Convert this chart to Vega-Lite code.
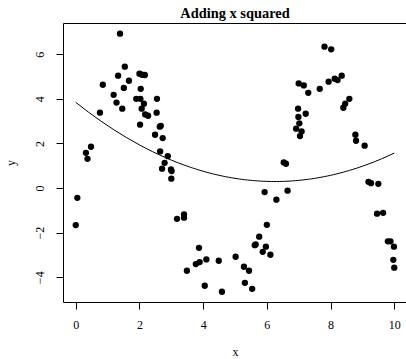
{
  "$schema": "https://vega.github.io/schema/vega-lite/v6.json",
  "autosize": {"type": "none"},
  "padding": {"left": 63, "top": 23, "right": 0, "bottom": 57},
  "width": 344,
  "height": 279,
  "background": "white",
  "title": {
    "text": "Adding x squared",
    "font": "Liberation Serif",
    "fontSize": 14.4,
    "fontWeight": "bold",
    "color": "black",
    "anchor": "middle",
    "frame": "group",
    "baseline": "alphabetic",
    "offset": 5,
    "dy": 14
  },
  "config": {
    "view": {"stroke": "black", "strokeWidth": 1},
    "axis": {
      "grid": false,
      "domain": false,
      "tickColor": "black",
      "tickSize": 7,
      "tickWidth": 1,
      "labelFont": "Liberation Serif",
      "labelFontSize": 12,
      "labelColor": "black",
      "labelFlush": false,
      "labelOverlap": false,
      "titleFont": "Liberation Serif",
      "titleFontSize": 12,
      "titleFontWeight": "normal",
      "titleColor": "black"
    }
  },
  "data": {
    "values": [
      {"x": 0.0, "y": -1.66}, {"x": 0.05, "y": -0.44}, {"x": 0.32, "y": 1.58}, {"x": 0.37, "y": 1.31},
      {"x": 0.48, "y": 1.85}, {"x": 0.76, "y": 3.38}, {"x": 0.85, "y": 4.63}, {"x": 1.19, "y": 4.18},
      {"x": 1.28, "y": 3.83}, {"x": 1.33, "y": 5.04}, {"x": 1.39, "y": 6.92}, {"x": 1.46, "y": 3.56},
      {"x": 1.51, "y": 4.49}, {"x": 1.54, "y": 5.44}, {"x": 1.67, "y": 4.81}, {"x": 1.9, "y": 4.0},
      {"x": 2.0, "y": 5.13}, {"x": 2.02, "y": 2.84}, {"x": 2.03, "y": 4.0}, {"x": 2.04, "y": 4.45},
      {"x": 2.07, "y": 3.56}, {"x": 2.08, "y": 5.08}, {"x": 2.14, "y": 3.78}, {"x": 2.17, "y": 5.07},
      {"x": 2.18, "y": 3.3}, {"x": 2.27, "y": 3.24}, {"x": 2.49, "y": 2.39}, {"x": 2.54, "y": 3.38},
      {"x": 2.55, "y": 4.0}, {"x": 2.64, "y": 2.75}, {"x": 2.65, "y": 1.64}, {"x": 2.67, "y": 2.79},
      {"x": 2.71, "y": 0.87}, {"x": 2.73, "y": 2.24}, {"x": 2.79, "y": 1.13}, {"x": 2.89, "y": 1.43},
      {"x": 2.99, "y": 0.83}, {"x": 3.0, "y": 0.42}, {"x": 3.01, "y": 0.76}, {"x": 3.18, "y": -1.38},
      {"x": 3.4, "y": -1.18}, {"x": 3.4, "y": -1.33}, {"x": 3.49, "y": -3.71}, {"x": 3.77, "y": -3.41},
      {"x": 3.87, "y": -2.68}, {"x": 3.89, "y": -3.32}, {"x": 4.05, "y": -4.38}, {"x": 4.1, "y": -3.2},
      {"x": 4.49, "y": -3.26}, {"x": 4.59, "y": -4.65}, {"x": 5.02, "y": -3.08}, {"x": 5.28, "y": -3.53},
      {"x": 5.31, "y": -4.25}, {"x": 5.44, "y": -3.71}, {"x": 5.54, "y": -4.52}, {"x": 5.62, "y": -2.56},
      {"x": 5.65, "y": -2.53}, {"x": 5.76, "y": -2.18}, {"x": 5.87, "y": -2.86}, {"x": 5.93, "y": -0.18},
      {"x": 5.97, "y": -2.63}, {"x": 6.0, "y": -1.65}, {"x": 6.11, "y": -2.99}, {"x": 6.3, "y": -0.52},
      {"x": 6.53, "y": 1.15}, {"x": 6.6, "y": 1.09}, {"x": 6.65, "y": -0.12}, {"x": 6.92, "y": 2.66},
      {"x": 6.98, "y": 3.56}, {"x": 6.99, "y": 3.19}, {"x": 7.0, "y": 4.69}, {"x": 7.02, "y": 2.9},
      {"x": 7.04, "y": 2.33}, {"x": 7.09, "y": 2.54}, {"x": 7.16, "y": 4.6}, {"x": 7.22, "y": 3.33},
      {"x": 7.3, "y": 4.27}, {"x": 7.66, "y": 4.45}, {"x": 7.81, "y": 6.34}, {"x": 7.94, "y": 4.77},
      {"x": 8.02, "y": 6.22}, {"x": 8.13, "y": 4.9}, {"x": 8.22, "y": 4.84}, {"x": 8.35, "y": 5.04},
      {"x": 8.4, "y": 3.6}, {"x": 8.46, "y": 3.78}, {"x": 8.59, "y": 4.0}, {"x": 8.78, "y": 2.39},
      {"x": 8.8, "y": 2.12}, {"x": 9.07, "y": 1.9}, {"x": 9.19, "y": 0.28}, {"x": 9.27, "y": 0.22},
      {"x": 9.46, "y": -1.15}, {"x": 9.5, "y": 0.19}, {"x": 9.65, "y": -1.11}, {"x": 9.8, "y": -2.39},
      {"x": 9.88, "y": -2.39}, {"x": 9.99, "y": -2.63}, {"x": 9.97, "y": -3.22}, {"x": 10.0, "y": -3.57}
    ]
  },
  "encoding": {
    "x": {
      "field": "x",
      "type": "quantitative",
      "scale": {"domain": [-0.4, 10.4], "nice": false, "zero": false},
      "axis": {
        "values": [0, 2, 4, 6, 8, 10],
        "labelBaseline": "alphabetic",
        "labelPadding": 19.5,
        "title": "x",
        "titleX": 172,
        "titleY": 53,
        "titleAlign": "center",
        "titleBaseline": "alphabetic"
      }
    },
    "y": {
      "field": "y",
      "type": "quantitative",
      "scale": {"domain": [-5.11, 7.4], "nice": false, "zero": false},
      "axis": {
        "values": [-4, -2, 0, 2, 4, 6],
        "labelAngle": -90,
        "labelAlign": "center",
        "labelBaseline": "alphabetic",
        "labelPadding": 13,
        "title": "y",
        "titleAngle": -90,
        "titleX": -49,
        "titleY": 139.5,
        "titleAlign": "center",
        "titleBaseline": "alphabetic"
      }
    }
  },
  "layer": [
    {
      "mark": {"type": "point", "filled": true, "shape": "circle", "size": 40, "color": "black", "opacity": 1}
    },
    {
      "transform": [
        {"regression": "y", "on": "x", "method": "poly", "order": 2, "extent": [0, 10]}
      ],
      "mark": {"type": "line", "color": "black", "strokeWidth": 1}
    }
  ]
}
